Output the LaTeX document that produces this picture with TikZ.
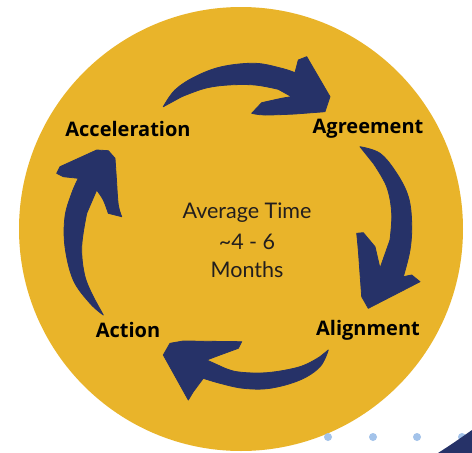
\documentclass[tikz,border=0pt]{standalone}
\usepackage{fontspec}
\setmainfont{Open Sans}
\newfontfamily\midfont{Lato}
\usetikzlibrary{positioning}
\definecolor{mustard}{RGB}{233,180,42}
\definecolor{navy}{RGB}{38,50,104}
\definecolor{dotblue}{RGB}{163,195,234}
\definecolor{inkgrey}{RGB}{34,30,30}
\tikzset{
  curvearrow/.style={fill=navy,draw=navy,line width=0.8pt,line join=round},
  stage/.style={font=\fontsize{20}{24}\selectfont\bfseries,text=black},
  avg/.style={font=\midfont\fontsize{21.5}{25}\selectfont,text=inkgrey},
  dotmark/.style={fill=dotblue,draw=none}
}
\begin{document}
\begin{tikzpicture}[x=1pt,y=-1pt]
    \useasboundingbox (0,0) rectangle (472,453);
    \fill[white] (0,0) rectangle (472,453);
    \clip (0,0) rectangle (472,453);
    % --- disc
    \fill[mustard] (241,229) circle[radius=222pt];
    % --- top arrow
    \draw[curvearrow] plot[smooth,tension=0.6] coordinates {(163.3,106.7) (175,90) (195,76.7) (221.7,66.7) (255,63.3) (281.7,68.3) (295,72.7)}
      -- (298.3,60) -- (306.7,56.7) -- (330,96.7) -- (325,111.7)
      -- plot[smooth,tension=0.6] coordinates {(295,114) (265,115) (251.7,113.3)}
      -- plot[smooth,tension=0.6] coordinates {(261.7,102.7) (281.7,98.3) (291.7,96.7)}
      -- plot[smooth,tension=0.6] coordinates {(278.3,89.3) (255,85) (228.3,85) (205,88.3) (181.7,96.7)} -- cycle;
    % --- right arrow
    \draw[curvearrow] plot[smooth,tension=0.6] coordinates {(360,146.7) (380,153.3) (396.7,173.3) (408.3,196.7) (411.7,223.3) (410,250) (403.3,276.7)}
      -- (411.7,275) -- (420,281.7) -- (368.3,308.3)
      -- plot[smooth,tension=0.6] coordinates {(361.7,296.7) (360,273.3) (358.3,250) (356.7,233.3)}
      -- (363.3,232.7)
      -- plot[smooth,tension=0.6] coordinates {(375,246.7) (380,268.3)}
      -- plot[smooth,tension=0.6] coordinates {(390,240) (391.7,213.3) (386.7,186.7) (373.3,163.3)} -- cycle;
    % --- bottom arrow
    \draw[curvearrow] plot[smooth,tension=0.6] coordinates {(328.3,350) (320,366.7) (300,380) (270,388.3) (243.3,388.3) (220,383.3) (203.3,378.3)}
      -- (193.3,391.7) -- (188.3,400) -- (163.3,355) -- (170,343.3) -- (183.3,341)
      -- (241.7,341.7) -- (238.3,348.3)
      -- plot[smooth,tension=0.6] coordinates {(220,355) (206.7,360)}
      -- plot[smooth,tension=0.6] coordinates {(220,366) (236.7,371.7) (266.7,372.7) (300,366.7) (320,356.7)} -- cycle;
    % --- left arrow
    \draw[curvearrow] plot[smooth,tension=0.6] coordinates {(103.3,315) (90,303.3) (73.3,280) (65,246.7) (65,216.7) (71.7,193.3) (78.3,178.3)}
      -- (63.3,176.7) -- (56.7,173.3) -- (60,166.7) -- (96.7,150) -- (108.3,150.7) -- (115,158.3)
      -- plot[smooth,tension=0.6] coordinates {(116.7,183.3) (118.3,205) (121.7,216.7)}
      -- plot[smooth,tension=0.6] coordinates {(108.3,213.3) (103.3,200) (96.7,190)}
      -- plot[smooth,tension=0.6] coordinates {(86.7,213.3) (81.7,246.7) (85,276.7) (95,300)} -- cycle;
    % --- stages
    \node[stage] (accel) at (128,129) {Acceleration};
    \node[stage] (agree) at (368,129) {Agreement};
    \node[stage] (align) at (368,330) {Alignment};
    \node[stage] (act)   at (128,330) {Action};
    % --- centre text
    \node[avg] (avgtime) at (247,213) {Average Time};
    \node[avg] (range)   at (247,242) {\textasciitilde4 - 6};
    \node[avg] (months)  at (247,270) {Months};
    % --- corner decoration
    \foreach \dx in {328,373,417,462}
      \fill[dotmark] (\dx,437) circle[radius=4pt];
    \fill[navy] (438,453) .. controls (452,444) .. (472,430) -- (472,453) -- cycle;
  \end{tikzpicture}
\end{document}
